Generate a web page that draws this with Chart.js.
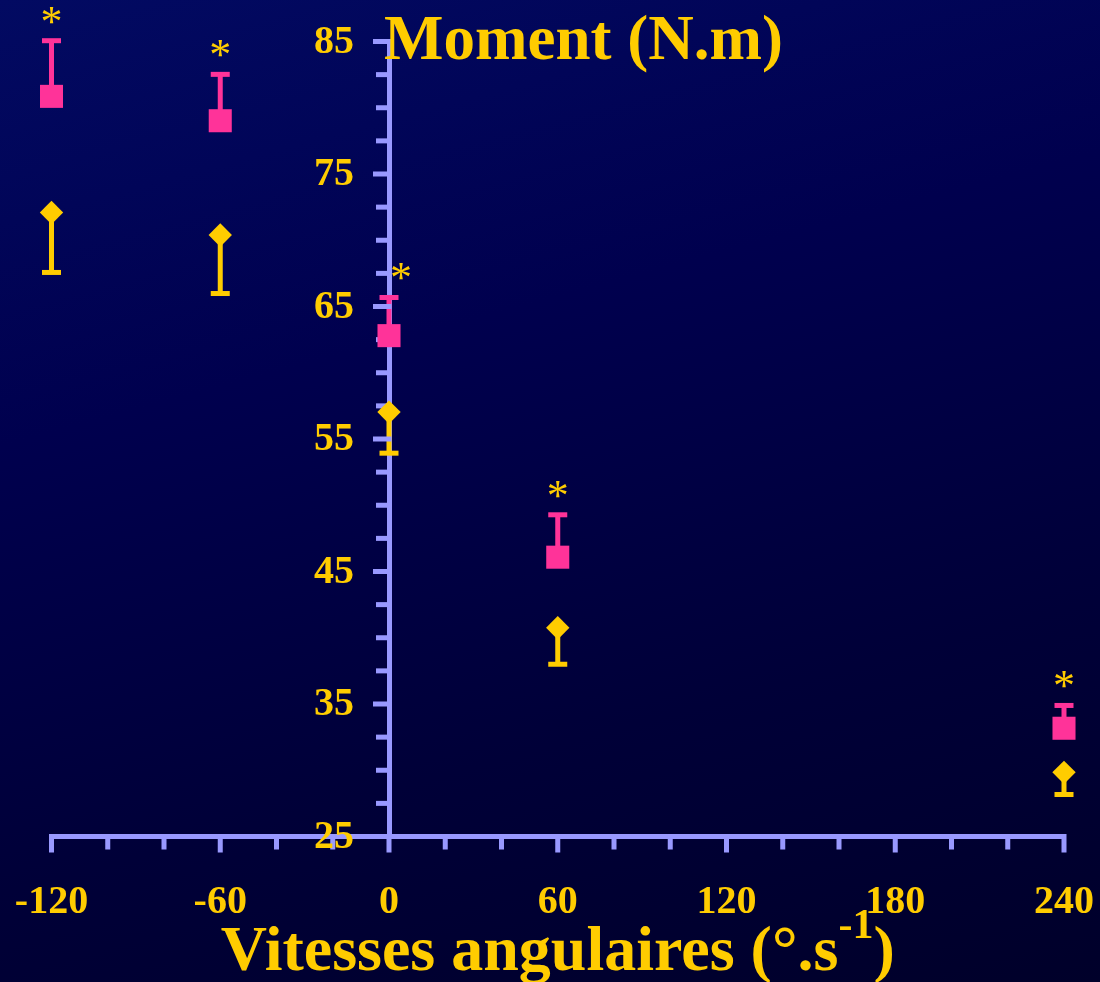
<!DOCTYPE html>
<html>
<head>
<meta charset="utf-8">
<script src="https://cdn.jsdelivr.net/npm/chart.js@4.4.1/dist/chart.umd.min.js"></script>
<style>
  html, body { margin: 0; padding: 0; }
  body {
    width: 1100px; height: 982px; overflow: hidden;
    background: linear-gradient(165deg, #020a62 0%, #00004e 35%, #000038 70%, #00002a 100%);
  }
  canvas { display: block; }
</style>
</head>
<body>
<canvas id="chart" width="1100" height="982"></canvas>
<script>
// Données
const vitesses = [-120, -60, 0, 60, 240];
const momentRose = [80.86, 79.02, 62.8, 46.08, 33.17];
const erreurRose = [4.2, 3.5, 2.88, 3.2, 1.72];
const momentJaune = [72.1, 70.4, 57.03, 40.76, 29.84];
const erreurJaune = [4.53, 4.42, 3.1, 2.76, 1.67];
const ticksX = [-120, -60, 0, 60, 120, 180, 240];
const ticksY = [25, 35, 45, 55, 65, 75, 85];

const JAUNE = '#ffcc00';
const ROSE = '#ff3399';
const AXE = '#9999ff';
const POLICE = '"Liberation Serif", "Times New Roman", serif';

const points = vals => vitesses.map((v, i) => ({ x: v, y: vals[i] }));

// pas de marge supplémentaire autour des axes positionnés
const sansMarge = axis => {
    axis.paddingLeft = 0; axis.paddingRight = 0;
    axis.paddingTop = 0; axis.paddingBottom = 0;
};

// Barres d'erreur (rose vers le haut, jaune vers le bas)
const barresErreur = {
    id: 'barresErreur',
    beforeDatasetsDraw(chart) {
        const { ctx, scales: { x, y } } = chart;
        ctx.save();
        chart.data.datasets.forEach(ds => {
            ctx.strokeStyle = ds.backgroundColor;
            ctx.fillStyle = ds.backgroundColor;
            ctx.lineWidth = 5;
            ds.data.forEach((p, i) => {
                const px = x.getPixelForValue(p.x);
                const py = y.getPixelForValue(p.y);
                const pe = y.getPixelForValue(p.y + ds.sens * ds.erreur[i]);
                ctx.beginPath();
                ctx.moveTo(px, py);
                ctx.lineTo(px, pe);
                ctx.stroke();
                ctx.fillRect(px - 9.5, pe - 2.5, 19, 5);
            });
        });
        ctx.restore();
    }
};

// Graduations des axes et étiquettes de l'axe Y
const graduations = {
    id: 'graduations',
    beforeDatasetsDraw(chart) {
        const { ctx, scales: { x, y } } = chart;
        const x0 = x.getPixelForValue(0);
        const y0 = y.getPixelForValue(25);
        ctx.save();
        ctx.fillStyle = AXE;
        for (let v = 25; v <= 85; v += 2.5) {
            const py = y.getPixelForValue(v);
            const major = ticksY.includes(v);
            const left = major ? x0 - 16 : x0 - 13;
            ctx.fillRect(left, py - 2.5, x0 + 2.5 - left, 5);
        }
        for (let v = -120; v <= 240; v += 20) {
            const px = x.getPixelForValue(v);
            const major = ticksX.includes(v);
            ctx.fillRect(px - 2.5, y0 - 2.5, 5, (major ? 16 : 13) + 2.5);
        }
        ctx.fillStyle = JAUNE;
        ctx.font = 'bold 40px ' + POLICE;
        ctx.textAlign = 'right';
        ctx.textBaseline = 'middle';
        ticksY.forEach(v => ctx.fillText(String(v), x0 - 35, y.getPixelForValue(v) + 1));
        ctx.restore();
    }
};

// Titres et astérisques
const textes = {
    id: 'textes',
    afterDatasetsDraw(chart) {
        const { ctx, scales: { x, y }, chartArea } = chart;
        ctx.save();
        ctx.fillStyle = JAUNE;

        // astérisques au-dessus des barres roses
        ctx.font = '44px ' + POLICE;
        ctx.textAlign = 'center';
        ctx.textBaseline = 'alphabetic';
        vitesses.forEach((v, i) => {
            const px = x.getPixelForValue(v) + (v === 0 ? 12 : 0);
            const py = y.getPixelForValue(momentRose[i] + erreurRose[i]) - 26;
            ctx.fillText('*', px, py + 21);
        });

        // titre de l'axe Y
        ctx.font = 'bold 63px ' + POLICE;
        ctx.textAlign = 'left';
        ctx.fillText('Moment (N.m)', x.getPixelForValue(0) - 5, 59);

        // titre de l'axe X avec exposant
        const t1 = 'Vitesses angulaires (°.s';
        const sup = '-1';
        const t2 = ')';
        ctx.font = 'bold 64px ' + POLICE;
        const w1 = ctx.measureText(t1).width;
        const w3 = ctx.measureText(t2).width;
        ctx.font = 'bold 42px ' + POLICE;
        const w2 = ctx.measureText(sup).width;
        let sx = (chartArea.left + chartArea.right) / 2 - (w1 + w2 + w3) / 2;
        const base = 970;
        ctx.font = 'bold 64px ' + POLICE;
        ctx.fillText(t1, sx, base);
        sx += w1;
        ctx.font = 'bold 42px ' + POLICE;
        ctx.fillText(sup, sx, base - 32);
        sx += w2;
        ctx.font = 'bold 64px ' + POLICE;
        ctx.fillText(t2, sx, base);
        ctx.restore();
    }
};

new Chart(document.getElementById('chart').getContext('2d'), {
    type: 'scatter',
    data: {
        datasets: [
            {
                label: 'rose',
                data: points(momentRose),
                erreur: erreurRose,
                sens: 1,
                backgroundColor: ROSE,
                borderColor: ROSE,
                borderWidth: 0,
                pointStyle: 'rect',
                pointRadius: 16.3,
                pointHoverRadius: 16.3,
                clip: false
            },
            {
                label: 'jaune',
                data: points(momentJaune),
                erreur: erreurJaune,
                sens: -1,
                backgroundColor: JAUNE,
                borderColor: JAUNE,
                borderWidth: 0,
                pointStyle: 'rectRot',
                pointRadius: 11.7,
                pointHoverRadius: 11.7,
                clip: false
            }
        ]
    },
    options: {
        responsive: false,
        animation: false,
        events: [],
        layout: { padding: { left: 51.5, right: 36, top: 41.5, bottom: 145.5 } },
        plugins: {
            legend: { display: false },
            tooltip: { enabled: false }
        },
        scales: {
            x: {
                type: 'linear',
                position: { y: 25 },
                min: -120,
                max: 240,
                afterBuildTicks: axis => { axis.ticks = ticksX.map(v => ({ value: v })); },
                afterFit: sansMarge,
                grid: { display: false, drawTicks: false },
                border: { display: true, color: AXE, width: 5 },
                ticks: {
                    color: JAUNE,
                    font: { family: POLICE, size: 40, weight: 'bold' },
                    padding: 42,
                    autoSkip: false,
                    maxRotation: 0
                }
            },
            y: {
                type: 'linear',
                position: { x: 0 },
                min: 25,
                max: 85,
                afterBuildTicks: axis => { axis.ticks = ticksY.map(v => ({ value: v })); },
                afterFit: sansMarge,
                grid: { display: false, drawTicks: false },
                border: { display: true, color: AXE, width: 5 },
                ticks: { display: false }
            }
        }
    },
    plugins: [barresErreur, graduations, textes]
});
</script>
</body>
</html>
